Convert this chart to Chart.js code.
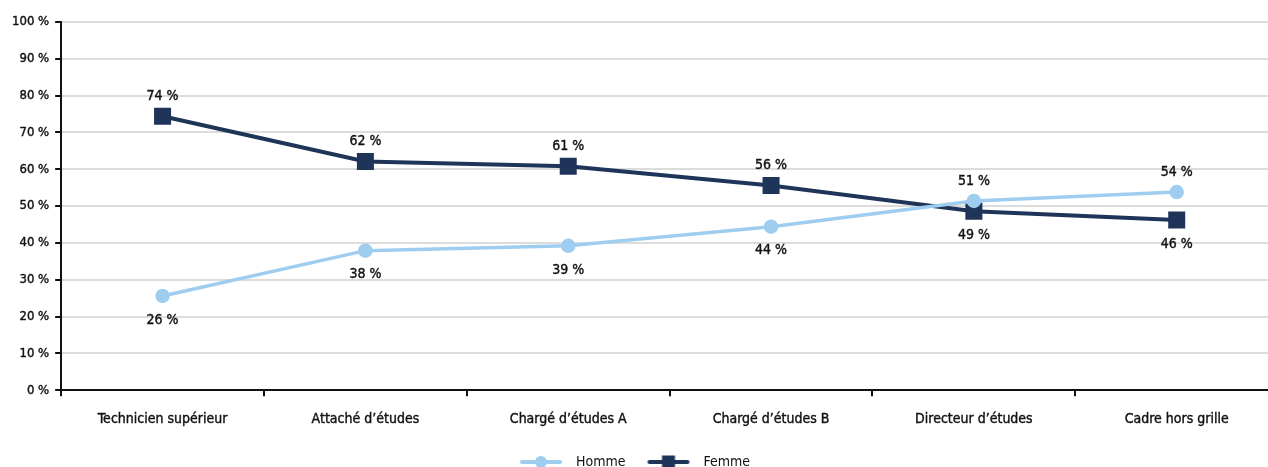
<!DOCTYPE html>
<html lang="fr">
<head>
<meta charset="utf-8">
<title>Répartition hommes / femmes par grade</title>
<script src="https://cdn.jsdelivr.net/npm/chart.js@4/dist/chart.umd.min.js"></script>
<style>
  html, body { margin: 0; padding: 0; background: #ffffff; overflow: hidden; }
  #wrap { width: 1268px; height: 467px; position: relative; }
</style>
</head>
<body>
<div id="wrap"><canvas id="chart"></canvas></div>
<script>
// Grades
const categories = [
  'Technicien supérieur',
  'Attaché d\u2019études',
  'Chargé d\u2019études A',
  'Chargé d\u2019études B',
  'Directeur d\u2019études',
  'Cadre hors grille'
];

// Share of each grade, in %
const homme = [25.6, 37.9, 39.2, 44.4, 51.4, 53.8];
const femme = [74.4, 62.1, 60.8, 55.6, 48.6, 46.2];

// Y axis ticks
const yTicks = [0, 10, 20, 30, 40, 50, 60, 70, 80, 90, 100];

// Horizontal axis: one unit per grade; the last grade's band is cut by the right edge
const X_MIN = -0.5;
const X_MAX = 5.45;

const HOMME_COLOR = '#9fcdf0';
const FEMME_COLOR = '#1f3459';
const TEXT_COLOR = '#111111';
const FONT = "'DejaVu Sans Condensed', 'DejaVu Sans', sans-serif";
const TEXT_STROKE = 0.4;

// Legend swatch: a line segment with the series marker in the middle,
// preceded by blank space that separates the legend items
function legendSwatch(color, marker) {
  const c = document.createElement('canvas');
  c.width = 71; c.height = 16;
  const g = c.getContext('2d');
  g.strokeStyle = color;
  g.lineWidth = 4;
  g.lineCap = 'round';
  g.beginPath();
  g.moveTo(24, 8); g.lineTo(62, 8);
  g.stroke();
  g.fillStyle = color;
  if (marker === 'circle') {
    g.beginPath(); g.arc(43, 8, 6, 0, Math.PI * 2); g.fill();
  } else {
    g.fillRect(36.5, 1.5, 13, 13);
  }
  return c;
}

// Value labels: each label sits on the side away from the other series
const valueLabels = {
  id: 'valueLabels',
  afterDatasetsDraw(chart) {
    const ctx = chart.ctx;
    ctx.save();
    ctx.font = '14px ' + FONT;
    ctx.fillStyle = TEXT_COLOR;
    ctx.strokeStyle = TEXT_COLOR;
    ctx.lineWidth = TEXT_STROKE;
    ctx.textAlign = 'center';
    ctx.textBaseline = 'middle';
    chart.data.datasets.forEach((ds, di) => {
      const other = chart.data.datasets[1 - di].data;
      const meta = chart.getDatasetMeta(di);
      meta.data.forEach((pt, i) => {
        const v = ds.data[i].y;
        const above = v >= other[i].y;
        const y = above ? pt.y - 20 : pt.y + 24;
        const txt = Math.round(v) + ' %';
        ctx.strokeText(txt, pt.x, y);
        ctx.fillText(txt, pt.x, y);
      });
    });
    ctx.restore();
  }
};

// Legend nudged down towards the bottom edge
const legendPlacement = {
  id: 'legendPlacement',
  afterLayout(chart) {
    const lg = chart.legend;
    if (lg) {
      lg.top += 12; lg.bottom += 12;
      lg.left -= 13; lg.right -= 13;
    }
  }
};

const toPoints = arr => arr.map((v, i) => ({ x: i, y: v }));

const ctx = document.getElementById('chart');
new Chart(ctx, {
  type: 'line',
  data: {
    datasets: [
      {
        label: 'Homme',
        data: toPoints(homme),
        borderColor: HOMME_COLOR,
        backgroundColor: HOMME_COLOR,
        borderWidth: 3.5,
        pointStyle: 'circle',
        pointRadius: 5.5,
        pointHoverRadius: 5.5,
        tension: 0
      },
      {
        label: 'Femme',
        data: toPoints(femme),
        borderColor: FEMME_COLOR,
        backgroundColor: FEMME_COLOR,
        borderWidth: 4,
        pointStyle: 'rect',
        pointRadius: 9.2,
        pointHoverRadius: 9.2,
        tension: 0
      }
    ]
  },
  options: {
    responsive: true,
    maintainAspectRatio: false,
    animation: false,
    events: [],
    layout: {
      autoPadding: false,
      padding: { left: 6, right: 0, top: 22, bottom: 0 }
    },
    plugins: {
      tooltip: { enabled: false },
      legend: {
        position: 'bottom',
        labels: {
          font: { family: FONT, size: 14 },
          color: TEXT_COLOR,
          usePointStyle: true,
          pointStyleWidth: 71,
          padding: 0,
          generateLabels(chart) {
            return chart.data.datasets.map((ds, i) => ({
              text: ds.label,
              datasetIndex: i,
              fontColor: TEXT_COLOR,
              pointStyle: legendSwatch(ds.borderColor, i === 0 ? 'circle' : 'rect'),
              hidden: false,
              lineWidth: 0
            }));
          }
        }
      }
    },
    scales: {
      x: {
        type: 'linear',
        min: X_MIN,
        max: X_MAX,
        afterBuildTicks(scale) {
          // band edges (tick marks) and band centres (grade names)
          const t = [];
          for (let i = 0; i < categories.length; i++) {
            t.push({ value: i - 0.5 }, { value: i });
          }
          scale.ticks = t;
        },
        afterFit(scale) {
          scale.paddingRight = 0;
          scale.paddingLeft = 0;
        },
        grid: {
          drawOnChartArea: false,
          drawTicks: true,
          tickLength: 6,
          tickColor: c => (Number.isInteger(c.tick && c.tick.value) ? 'rgba(0,0,0,0)' : '#111111'),
          lineWidth: 2
        },
        border: { display: true, color: '#111111', width: 2 },
        ticks: {
          color: TEXT_COLOR,
          font: { family: FONT, size: 14 },
          textStrokeColor: TEXT_COLOR,
          textStrokeWidth: TEXT_STROKE,
          padding: 15,
          maxRotation: 0,
          minRotation: 0,
          autoSkip: false,
          callback: v => (Number.isInteger(v) ? categories[v] : '')
        }
      },
      y: {
        min: yTicks[0],
        max: yTicks[yTicks.length - 1],
        afterBuildTicks(scale) {
          scale.ticks = yTicks.map(v => ({ value: v }));
        },
        grid: {
          color: '#dcdcdc',
          lineWidth: 2,
          drawTicks: true,
          tickLength: 6,
          tickColor: '#111111'
        },
        border: { display: true, color: '#111111', width: 2 },
        ticks: {
          color: TEXT_COLOR,
          font: { family: FONT, size: 13 },
          textStrokeColor: TEXT_COLOR,
          textStrokeWidth: TEXT_STROKE,
          padding: 6,
          callback: v => v + ' %'
        }
      }
    }
  },
  plugins: [valueLabels, legendPlacement]
});
</script>
</body>
</html>
